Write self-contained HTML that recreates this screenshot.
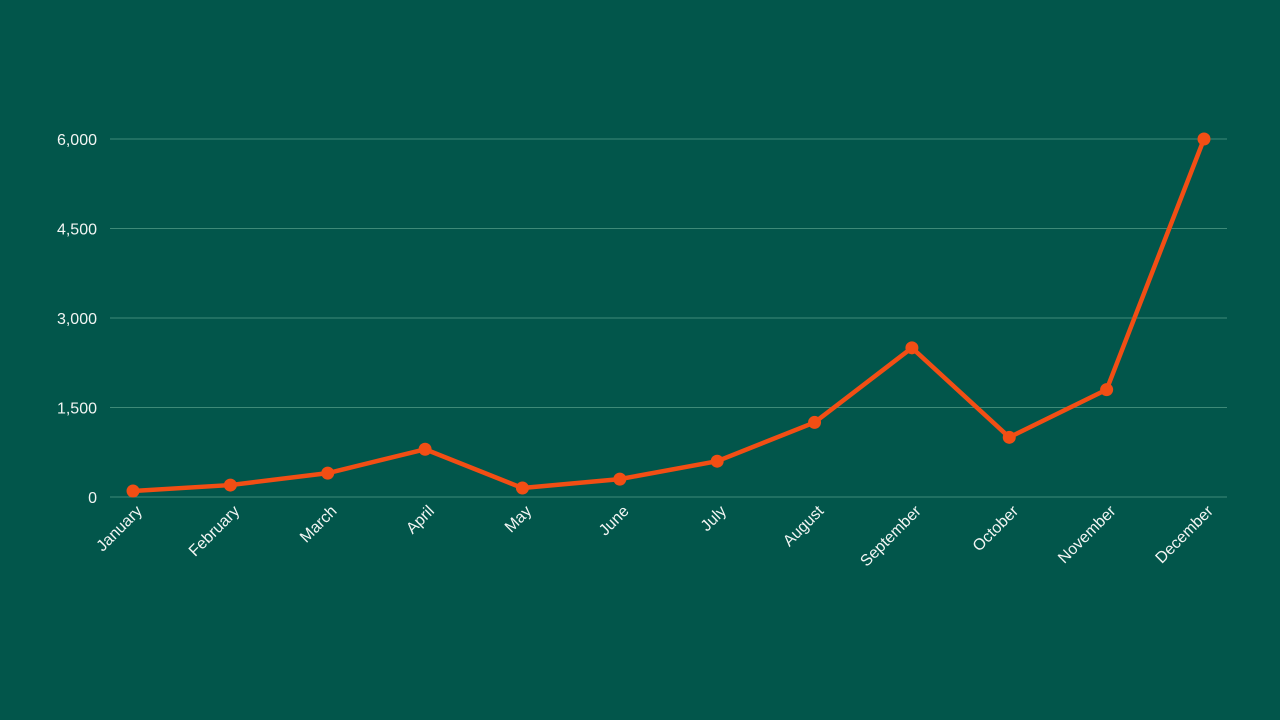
<!DOCTYPE html>
<html><head><meta charset="utf-8"><style>
html,body{margin:0;padding:0;background:#02564B;}
svg{display:block;font-family:"Liberation Sans",sans-serif;}
</style></head><body>
<svg id="chart" width="1280" height="720" viewBox="0 0 1280 720">
<rect width="1280" height="720" fill="#02564B"/>
<g id="grid"></g><g id="ylabels"></g><g id="xlabels"></g><g id="series"></g>
</svg>
<script>
const months=["January","February","March","April","May","June","July","August","September","October","November","December"];
const sales=[100,200,400,800,150,300,600,1250,2500,1000,1800,6000];
const yTicks=[0,1500,3000,4500,6000];
const yTickLabels=["0","1,500","3,000","4,500","6,000"];
const NS="http://www.w3.org/2000/svg";
const x0=133,x1=1204,yBase=497,yTop=139,yMax=6000;
function xs(i){return x0+(x1-x0)*i/(months.length-1);}
function ys(v){return yBase-(yBase-yTop)*v/yMax;}
function mk(t,a,p){const e=document.createElementNS(NS,t);for(const k in a)e.setAttribute(k,a[k]);p.appendChild(e);return e;}
const grid=document.getElementById('grid'),yl=document.getElementById('ylabels'),xl=document.getElementById('xlabels'),se=document.getElementById('series');
yTicks.forEach((v,i)=>{
 const l=mk('line',{x1:110,x2:1227,y1:ys(v),y2:ys(v),stroke:'#3E8A78','stroke-width':1},grid);
 
 
 const t=mk('text',{x:97,y:ys(v)+6,'text-anchor':'end',fill:'#F2F5F3','font-size':16},yl);
 t.textContent=yTickLabels[i];
 
 
});
months.forEach((m,i)=>{
 const x=xs(i)+10,y=512;
 const t=mk('text',{x:x,y:y,'text-anchor':'end',fill:'#F2F5F3','font-size':16,transform:`rotate(-45 ${x} ${y})`},xl);
 t.textContent=m;
 
 
});
const pl=mk('polyline',{points:sales.map((v,i)=>xs(i)+','+ys(v)).join(' '),fill:'none',stroke:'#F24E14','stroke-width':4.5,'stroke-linejoin':'round'},se);


sales.forEach((v,i)=>{
 const c=mk('circle',{cx:xs(i),cy:ys(v),r:6.5,fill:'#F24E14'},se);
 
 
});
</script>
</body></html>
